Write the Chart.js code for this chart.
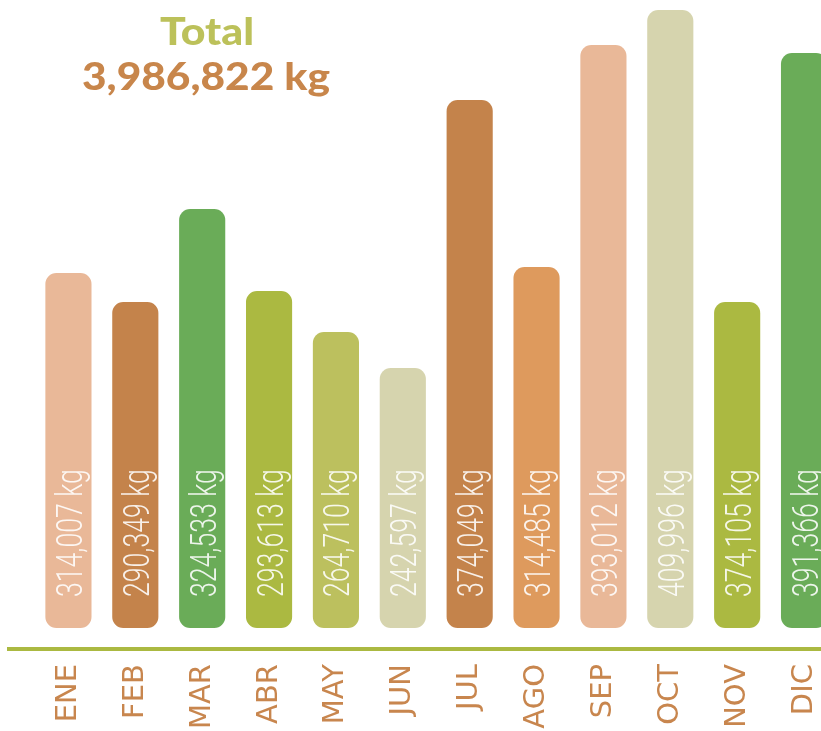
<!DOCTYPE html>
<html>
<head>
<meta charset="utf-8">
<script src="https://cdn.jsdelivr.net/npm/chart.js@4"></script>
<style>
  html, body { margin: 0; padding: 0; background: #ffffff; overflow: hidden; }
  #wrap { position: relative; width: 821px; height: 731px; overflow: hidden; }
  canvas { display: block; }
</style>
</head>
<body>
<div id="wrap"><canvas id="c" width="855" height="731" style="width:855px;height:731px"></canvas></div>
<script>
// Month categories
const months = ['ENE', 'FEB', 'MAR', 'ABR', 'MAY', 'JUN', 'JUL', 'AGO', 'SEP', 'OCT', 'NOV', 'DIC'];
// Values printed on the bars (kg)
const valuesKg = [314007, 290349, 324533, 293613, 264710, 242597, 374049, 314485, 393012, 409996, 374105, 391366];
// Drawn bar lengths (the artwork is not to scale)
const barLengths = [355, 326, 419, 337, 296, 260, 528, 361, 583, 618, 326, 575];
// Bar colours
const barColors = ['#e9b898', '#c4834b', '#6aac58', '#abb941', '#bcc05e', '#d6d4ae',
                   '#c4834b', '#de9a5d', '#e9b898', '#d6d4ae', '#abb941', '#6aac58'];
const titleLine1 = 'Total';
const titleLine2 = '3,986,822 kg';

const fmt = v => v.toLocaleString('en-US') + ' kg';

function drawFitted(ctx, text, cx, y, width) {
  const w = ctx.measureText(text).width;
  ctx.save();
  ctx.translate(cx, y);
  ctx.scale(width / w, 1);
  ctx.fillText(text, 0, 0);
  ctx.restore();
}

const overlay = {
  id: 'overlay',
  beforeDatasetsDraw(chart) {
    const ctx = chart.ctx;
    ctx.save();
    ctx.strokeStyle = '#abb941';
    ctx.lineWidth = 4;
    ctx.beginPath();
    ctx.moveTo(7, chart.chartArea.bottom + 1);
    ctx.lineTo(chart.width, chart.chartArea.bottom + 1);
    ctx.stroke();
    ctx.restore();
  },
  afterDatasetsDraw(chart) {
    const ctx = chart.ctx;
    const meta = chart.getDatasetMeta(0);
    const yBase = chart.scales.y.getPixelForValue(0);
    ctx.save();
    ctx.fillStyle = 'rgba(255,255,255,0.88)';
    ctx.font = '300 37px Roboto, "Open Sans", sans-serif';
    ctx.textAlign = 'left';
    ctx.textBaseline = 'alphabetic';
    meta.data.forEach((bar, i) => {
      ctx.save();
      ctx.translate(bar.x, yBase - 31);
      ctx.rotate(-Math.PI / 2);
      ctx.scale(0.72, 1);
      ctx.fillText(fmt(valuesKg[i]), 0, 13.5);
      ctx.restore();
    });
    ctx.restore();
    ctx.save();
    ctx.textAlign = 'center';
    ctx.textBaseline = 'alphabetic';
    ctx.font = '900 38px Lato, sans-serif';
    ctx.fillStyle = '#bcc15a';
    drawFitted(ctx, titleLine1, 207, 45, 94);
    ctx.fillStyle = '#c8864b';
    drawFitted(ctx, titleLine2, 206, 90, 248);
    ctx.restore();
  }
};

new Chart(document.getElementById('c'), {
  type: 'bar',
  data: {
    labels: months,
    datasets: [{
      data: barLengths,
      backgroundColor: barColors,
      borderRadius: 11,
      borderSkipped: false,
      barPercentage: 0.69,
      categoryPercentage: 1.0
    }]
  },
  options: {
    responsive: false,
    animation: false,
    layout: { padding: { left: 35, right: 4, top: 0, bottom: 0 } },
    plugins: { legend: { display: false }, tooltip: { enabled: false }, title: { display: false } },
    scales: {
      x: {
        grid: { display: false, drawTicks: false },
        border: { display: false },
        afterFit: (scale) => { scale.height = 83; },
        ticks: {
          autoSkip: false,
          minRotation: 90,
          maxRotation: 90,
          padding: 16,
          color: '#c8864e',
          font: { family: '"DejaVu Sans", sans-serif', size: 29, weight: '400' }
        }
      },
      y: {
        display: false,
        min: -20,
        max: 628
      }
    }
  },
  plugins: [overlay]
});
</script>
</body>
</html>
